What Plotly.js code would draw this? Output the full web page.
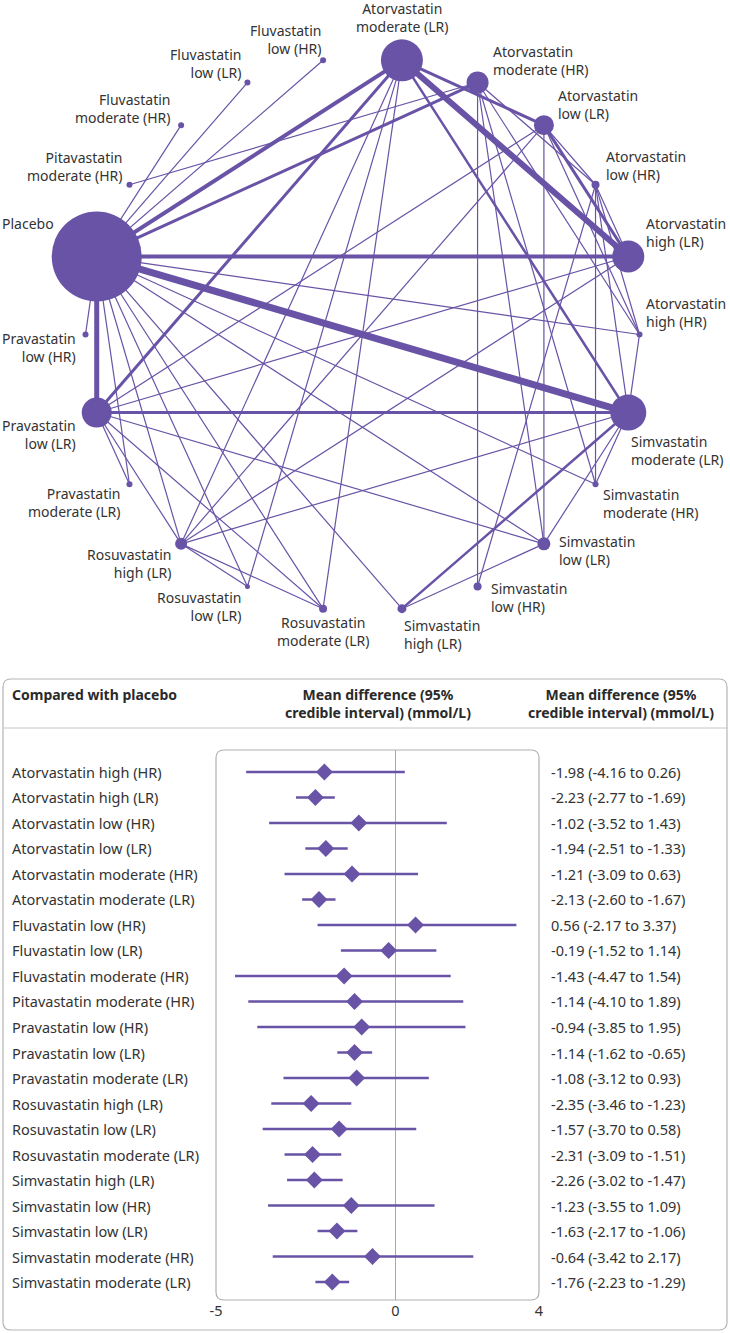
<!DOCTYPE html>
<html><head><meta charset="utf-8">
<script src="https://cdn.plot.ly/plotly-3.0.1.min.js"></script>
<style>html,body{margin:0;padding:0;background:#fff}#chart{width:730px;height:1333px}</style>
</head><body><div id="chart"></div>
<script>
// ---------------- Network data ----------------
const nodeKeys = ["AmL","AmH","AlL","AlH","AhL","AhH","SmL","SmH","SlL","SlH","ShL","RmL","RlL","RhL","PmL","PlL","PlH","P","PitmH","FmH","FlL","FlH"];
const nodeLabels = ["Atorvastatin<br>moderate (LR)","Atorvastatin<br>moderate (HR)","Atorvastatin<br>low (LR)","Atorvastatin<br>low (HR)","Atorvastatin<br>high (LR)","Atorvastatin<br>high (HR)","Simvastatin<br>moderate (LR)","Simvastatin<br>moderate (HR)","Simvastatin<br>low (LR)","Simvastatin<br>low (HR)","Simvastatin<br>high (LR)","Rosuvastatin<br>moderate (LR)","Rosuvastatin<br>low (LR)","Rosuvastatin<br>high (LR)","Pravastatin<br>moderate (LR)","Pravastatin<br>low (LR)","Pravastatin<br>low (HR)","Placebo","Pitavastatin<br>moderate (HR)","Fluvastatin<br>moderate (HR)","Fluvastatin<br>low (LR)","Fluvastatin<br>low (HR)"];
const nodeWeight = [42,22,20,8,32,6,36,6,13,8,9,8,5,12,6,30,6,90,6,6,6,6];
const edgeFrom = ["P","AmL","P","P","P","P","AmL","PlL","AmL","AlL","AmL","ShL",
  "P","P","P","P","P","P","P","P","P","P","P","P",
  "PitmH","AmH","AlL","AlH","AlH","AmH","AmH","AmH","AmH",
  "PlL","PlL","PlL","PlL","PlL","PlL","ShL","SlL",
  "RhL","RhL","RhL","RhL","RhL","RhL","AmL","AmL",
  "AlL","AlH","AlH","AlL","AhH","SmH","AlH"];
const edgeTo = ["SmL","AhL","PlL","AhL","AmL","AmH","PlL","SmL","AlL","AhL","SmL","SmL",
  "FlH","FlL","FmH","PlH","AhH","PmL","RhL","RlL","RmL","ShL","SlL","SmH",
  "AmH","SlH","SlL","SmH","SlH","SlL","SmH","AlH","AhH",
  "AlL","SlL","PmL","RhL","RmL","AhL","SlL","SmL",
  "RlL","RmL","AmL","AlL","AhL","SmL","RlL","RmL",
  "AlH","AhL","SmL","AhH","SmL","SmL","AhH"];
const edgeTrials = [7,6,5,4,4,3,3,3,3,3,2.5,2.5,
  1,1,1,1,1,1,1,1,1,1,1,1,
  1,1,1,1,1,1,1,1,1,
  1,1,1,1,1,1,1,1,
  1,1,1,1,1,1,1,1,
  1,1,1,1,1,1,1];

// ---------------- Forest data ----------------
const comparisons = ["Atorvastatin high (HR)","Atorvastatin high (LR)","Atorvastatin low (HR)","Atorvastatin low (LR)","Atorvastatin moderate (HR)","Atorvastatin moderate (LR)","Fluvastatin low (HR)","Fluvastatin low (LR)","Fluvastatin moderate (HR)","Pitavastatin moderate (HR)","Pravastatin low (HR)","Pravastatin low (LR)","Pravastatin moderate (LR)","Rosuvastatin high (LR)","Rosuvastatin low (LR)","Rosuvastatin moderate (LR)","Simvastatin high (LR)","Simvastatin low (HR)","Simvastatin low (LR)","Simvastatin moderate (HR)","Simvastatin moderate (LR)"];
const meanDiff = [-1.98,-2.23,-1.02,-1.94,-1.21,-2.13,0.56,-0.19,-1.43,-1.14,-0.94,-1.14,-1.08,-2.35,-1.57,-2.31,-2.26,-1.23,-1.63,-0.64,-1.76];
const ciLow = [-4.16,-2.77,-3.52,-2.51,-3.09,-2.60,-2.17,-1.52,-4.47,-4.10,-3.85,-1.62,-3.12,-3.46,-3.70,-3.09,-3.02,-3.55,-2.17,-3.42,-2.23];
const ciHigh = [0.26,-1.69,1.43,-1.33,0.63,-1.67,3.37,1.14,1.54,1.89,1.95,-0.65,0.93,-1.23,0.58,-1.51,-1.47,1.09,-1.06,2.17,-1.29];
const xTicks = [-5,0,4];
const headerLeft = "Compared with placebo";
const headerMD = "Mean difference (95%<br>credible interval) (mmol/L)";

// ---------------- Styling / layout ----------------
const W = 730, H = 1333;
const PURPLE = "#6953a6", TXT = "#333333";
const FONT = "Noto Sans, sans-serif";
const FS = 14.5, LFS = 14;
const NET_H = 660;
const CX = 362.5, CY = 334.5, R = 277;
const STEP = 360 / nodeKeys.length;
const labelPos = [[0,-43,"center"],[14,-22,"left"],[13,-21,"left"],[9,-19,"left"],[17,-24,"left"],[5,-22,"left"],
  [2,38,"left"],[6,19,"left"],[14,7,"left"],[12,11,"left"],[1,26,"left"],[0,23,"center"],[-5,20,"right"],[-9,20,"right"],
  [-8,18,"right"],[-20,22,"right"],[-9,13,"right"],[-42,-33,"right"],[-5,-18,"right"],[-9,-17,"right"],[-5,-19,"right"],[-1,-21,"right"]];

const pos = {};
nodeKeys.forEach((k,i)=>{
  const a = (90 - STEP/2 - STEP*i) * Math.PI/180;
  pos[k] = [CX + R*Math.cos(a), CY - R*Math.sin(a)];
});

const traces = [];
edgeFrom.forEach((f,i)=>{
  const t = edgeTo[i];
  traces.push({type:"scatter",mode:"lines",x:[pos[f][0],pos[t][0]],y:[pos[f][1],pos[t][1]],
    line:{color:PURPLE,width:edgeTrials[i]===1?1.2:edgeTrials[i]},hoverinfo:"skip",xaxis:"x",yaxis:"y"});
});
traces.push({type:"scatter",mode:"markers",x:nodeKeys.map(k=>pos[k][0]),y:nodeKeys.map(k=>pos[k][1]),
  marker:{size:nodeWeight,color:PURPLE,opacity:1,line:{width:0}},hoverinfo:"skip",xaxis:"x",yaxis:"y"});

const annotations = [];
nodeKeys.forEach((k,i)=>{
  const [dx,dy,anc] = labelPos[i];
  annotations.push({xref:"x",yref:"y",x:pos[k][0]+dx,y:pos[k][1]+dy,text:nodeLabels[i],showarrow:false,
    xanchor:anc,yanchor:"middle",align:anc,borderpad:0,font:{family:FONT,size:LFS,color:TXT}});
});

// forest
const ROW0 = 772, ROWH = 25.5, BOX_T = 750, BOX_B = 1300, BX0 = 216, BX1 = 539;
const rows = comparisons.map((_,i)=>i);
traces.push({type:"scatter",mode:"markers",x:meanDiff,y:rows,xaxis:"x2",yaxis:"y2",hoverinfo:"skip",
  marker:{symbol:"diamond",size:13,color:PURPLE,opacity:1,line:{width:0}},
  error_x:{type:"data",symmetric:false,array:meanDiff.map((m,i)=>ciHigh[i]-m),arrayminus:meanDiff.map((m,i)=>m-ciLow[i]),
    color:PURPLE,thickness:2.6,width:0}});

const fmt = v => v.toFixed(2);
comparisons.forEach((c,i)=>{
  annotations.push({xref:"paper",yref:"y2",x:11/W,y:i,text:c,showarrow:false,xanchor:"left",yanchor:"middle",
    borderpad:0,font:{family:FONT,size:FS,color:TXT}});
  annotations.push({xref:"paper",yref:"y2",x:550/W,y:i,text:`${fmt(meanDiff[i])} (${fmt(ciLow[i])} to ${fmt(ciHigh[i])})`,
    showarrow:false,xanchor:"left",yanchor:"middle",borderpad:0,font:{family:FONT,size:FS,color:TXT}});
});
const px = v=>v/W, py = v=>1-v/H;
const HFONT = {family:FONT,size:14,color:"#2a2a2a"};
annotations.push({xref:"paper",yref:"paper",x:px(11),y:py(694.5),text:`<b>${headerLeft}</b>`,showarrow:false,
  xanchor:"left",yanchor:"middle",borderpad:0,font:HFONT});
[378,621].forEach(cx=>{
  annotations.push({xref:"paper",yref:"paper",x:px(cx),y:py(703.5),text:`<b>${headerMD}</b>`,showarrow:false,
    xanchor:"center",yanchor:"middle",align:"center",borderpad:0,font:HFONT});
});

function rrect(x0,y0,x1,y1,r){
  const X=v=>px(v).toFixed(5), Y=v=>py(v).toFixed(5);
  return `M${X(x0+r)},${Y(y0)} L${X(x1-r)},${Y(y0)} Q${X(x1)},${Y(y0)} ${X(x1)},${Y(y0+r)} L${X(x1)},${Y(y1-r)} Q${X(x1)},${Y(y1)} ${X(x1-r)},${Y(y1)} L${X(x0+r)},${Y(y1)} Q${X(x0)},${Y(y1)} ${X(x0)},${Y(y1-r)} L${X(x0)},${Y(y0+r)} Q${X(x0)},${Y(y0)} ${X(x0+r)},${Y(y0)} Z`;
}
const shapes = [
  {type:"path",xref:"paper",yref:"paper",path:rrect(3,679,727,1330,8),line:{color:"#b5b5b5",width:1.2},layer:"below"},
  {type:"line",xref:"paper",yref:"paper",x0:px(3),x1:px(727),y0:py(728),y1:py(728),line:{color:"#c4c4c4",width:1}},
  {type:"path",xref:"paper",yref:"paper",path:rrect(BX0,BOX_T,BX1,BOX_B,8),line:{color:"#b0b0b0",width:1.2},layer:"below"}
];

const layout = {
  width:W,height:H,margin:{l:0,r:0,t:0,b:0},paper_bgcolor:"#fff",plot_bgcolor:"rgba(0,0,0,0)",showlegend:false,
  xaxis:{domain:[0,1],range:[0,W],visible:false,fixedrange:true},
  yaxis:{domain:[1-NET_H/H,1],range:[NET_H,0],visible:false,fixedrange:true},
  xaxis2:{domain:[BX0/W,BX1/W],range:[-5,4],anchor:"y2",tickvals:xTicks,ticktext:xTicks.map(String),showgrid:false,
    zeroline:true,zerolinecolor:"#a8a8a8",zerolinewidth:1,showline:false,ticks:"",tickfont:{family:FONT,size:FS,color:TXT}},
  yaxis2:{domain:[1-BOX_B/H,1-BOX_T/H],range:[(BOX_B-ROW0)/ROWH,(BOX_T-ROW0)/ROWH],anchor:"x2",visible:false,fixedrange:true},
  annotations, shapes
};
Plotly.newPlot("chart",traces,layout,{displayModeBar:false,staticPlot:true});
</script></body></html>
